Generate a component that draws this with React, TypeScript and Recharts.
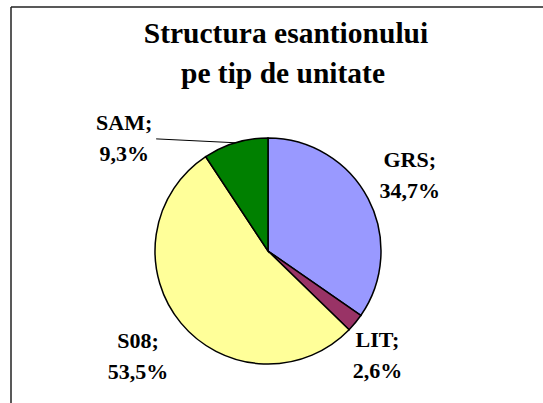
import { PieChart, Pie, Cell } from 'recharts'

const CATEGORIES = ['GRS', 'LIT', 'S08', 'SAM']
const SHARES = [34.7, 2.6, 53.5, 9.3]
const SHARE_LABELS = ['34,7%', '2,6%', '53,5%', '9,3%']
const TITLE_LINES = ['Structura esantionului', 'pe tip de unitate']

const SLICE_COLORS = ['#9999FF', '#993366', '#FFFF99', '#008000']
// label placement: distance from centre and angle tweak (deg) off the slice mid angle
const LABEL_LAYOUT: Record<string, { r: number; da: number; leader?: boolean }> = {
  GRS: { r: 161, da: 0.7 },
  LIT: { r: 151, da: -4.1 },
  S08: { r: 167, da: -0.8 },
  SAM: { r: 183, da: 35.1, leader: true },
}

const FONT = '"Liberation Serif", "Times New Roman", serif'
const RAD = Math.PI / 180
const textStyle = { fontFamily: FONT, fontWeight: 700 }

const data = CATEGORIES.map((name, i) => ({ name, value: SHARES[i], pct: SHARE_LABELS[i] }))

function SliceLabel(props: any) {
  const { cx, cy, midAngle, outerRadius, index } = props
  const name = CATEGORIES[index]
  const lay = LABEL_LAYOUT[name]
  const a = (midAngle + lay.da) * RAD
  const x = cx + lay.r * Math.cos(a)
  const y = cy - lay.r * Math.sin(a)
  const ex = cx + outerRadius * Math.cos(midAngle * RAD)
  const ey = cy - outerRadius * Math.sin(midAngle * RAD)
  return (
    <g>
      {lay.leader && <line x1={x + 32} y1={y + 1} x2={ex} y2={ey} stroke="#000" strokeWidth={1} />}
      <text x={x} y={y - 8} textAnchor="middle" style={textStyle} fontSize={22} fill="#000">
        {name};
      </text>
      <text x={x} y={y + 23} textAnchor="middle" style={textStyle} fontSize={22} fill="#000">
        {SHARE_LABELS[index]}
      </text>
    </g>
  )
}

export default function App() {
  return (
    <div style={{ position: 'absolute', left: 0, top: 0, width: 543, height: 403, background: '#fff', overflow: 'hidden' }}>
      <PieChart width={543} height={403} margin={{ top: 0, right: 0, bottom: 0, left: 0 }}>
        <Pie
          data={data}
          dataKey="value"
          nameKey="name"
          cx={268}
          cy={251}
          outerRadius={113}
          startAngle={90}
          endAngle={-270}
          stroke="#000"
          strokeWidth={1.5}
          label={SliceLabel}
          labelLine={false}
          isAnimationActive={false}
        >
          {data.map((d, i) => (
            <Cell key={d.name} fill={SLICE_COLORS[i]} />
          ))}
        </Pie>
      </PieChart>
      <svg width={543} height={403} style={{ position: 'absolute', left: 0, top: 0, pointerEvents: 'none' }}>
        <line x1={11} y1={7} x2={543} y2={7} stroke="#222" strokeWidth={1.5} />
        <line x1={11} y1={7} x2={11} y2={403} stroke="#222" strokeWidth={1.5} />
        <text x={286} y={43} textAnchor="middle" style={textStyle} fontSize={29.5} fill="#000">
          {TITLE_LINES[0]}
        </text>
        <text x={283} y={83} textAnchor="middle" style={textStyle} fontSize={29.5} fill="#000">
          {TITLE_LINES[1]}
        </text>
      </svg>
    </div>
  )
}
